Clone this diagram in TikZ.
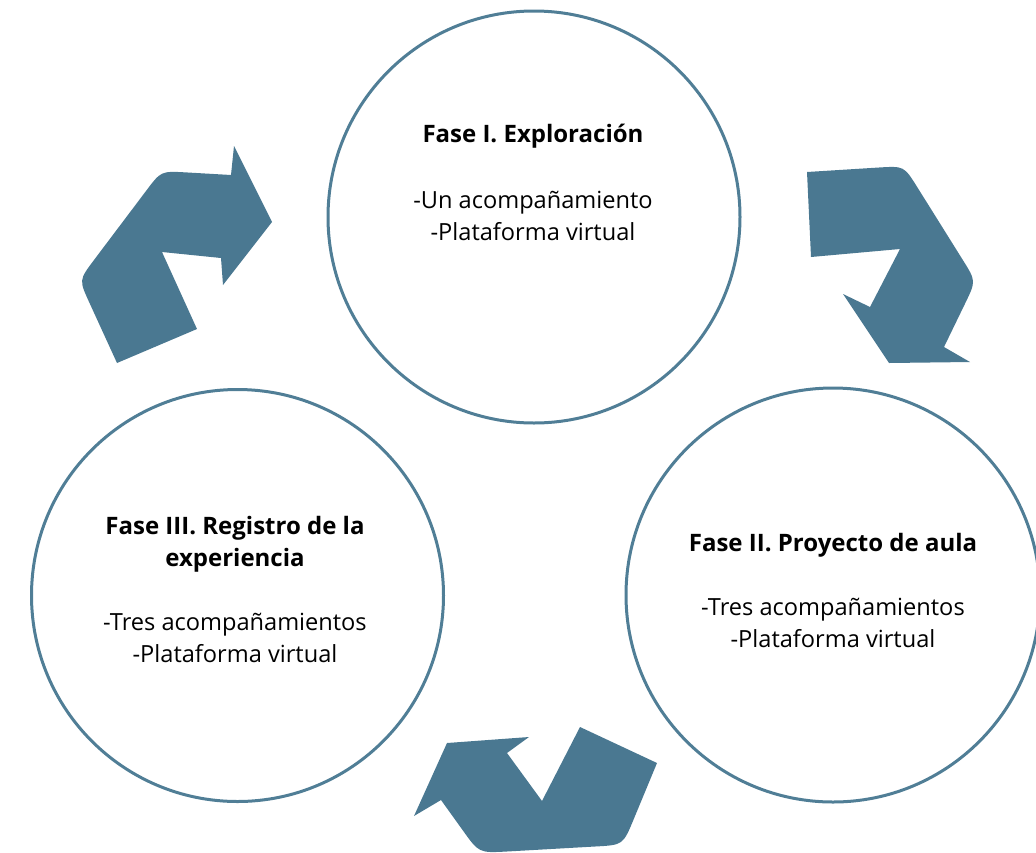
\documentclass[tikz,border=0pt]{standalone}
\usepackage{fontspec}
\setmainfont{Open Sans}
\definecolor{faseborde}{RGB}{80,126,150}
\definecolor{faseflecha}{RGB}{74,120,145}
\newcommand{\fasetitulo}[1]{{\fontsize{24}{32}\selectfont\bfseries #1}}
\tikzset{
  fase/.style={circle, draw=faseborde, line width=3pt, minimum size=412pt, inner sep=0pt},
  fasetexto/.style={align=center, font=\fontsize{23.6}{32}\selectfont, inner sep=0pt, anchor=north},
  flecha/.style={fill=faseflecha, draw=none}
}
\begin{document}
\begin{tikzpicture}[x=1pt,y=-1pt]
  \useasboundingbox (0,0) rectangle (1036,852);

  \node[fase] (fase1) at (534,217) {};
  \node[fase] (fase3) at (237.5,595.5) {};
  \node[fase, minimum size=414pt] (fase2) at (833,595) {};

  \node[fasetexto] (texto1) at (533,124) {\fasetitulo{Fase I. Exploración}\\[34pt] -Un acompañamiento\\ -Plataforma virtual};
  \node[fasetexto] (texto2) at (833,533) {\fasetitulo{Fase II. Proyecto de aula}\\[32pt] -Tres acompañamientos\\ -Plataforma virtual};
  \node[fasetexto] (texto3) at (235,516) {\fasetitulo{Fase III. Registro de la}\\ \fasetitulo{experiencia}\\[32pt] -Tres acompañamientos\\ -Plataforma virtual};

  % flecha III -> I
  \fill[flecha] (117,363) -- (197,329) -- (162,252) -- (221,258) -- (223,285) -- (272,222) -- (234,146) -- (231,175)
    -- (186,172.4) .. controls (161,171) .. (146,191) -- (94,260) .. controls (79,280) .. (89.4,302.7) -- cycle;
  % flecha I -> II
  \fill[flecha] (807,172) -- (811,257) -- (900,249) -- (870,307) -- (843,294) -- (889,363) -- (970,362) -- (944,347)
    -- (965.1,303.5) .. controls (976,281) .. (962.7,259.8) -- (917.3,187.2) .. controls (904,166) .. (879,167.5) -- cycle;
  % flecha II -> III
  \fill[flecha] (447,743) -- (529,737) -- (507,753) -- (542,801) -- (580,727) -- (657,763)
    -- (633.7,819.2) .. controls (623,845) .. (595,846.5) -- (507,851.5) .. controls (479,853) .. (462.7,830.2) -- (441,800) -- (414,816) -- cycle;

\end{tikzpicture}
\end{document}
